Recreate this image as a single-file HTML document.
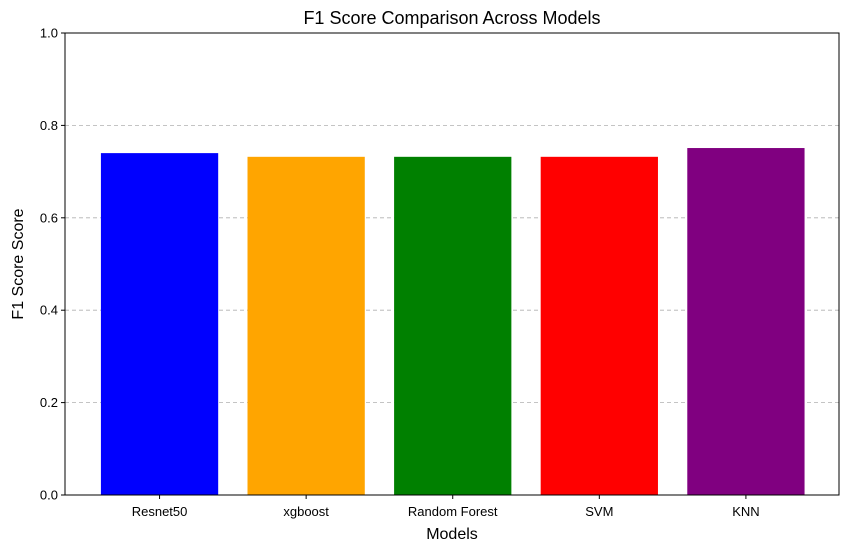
<!DOCTYPE html>
<html><head><meta charset="utf-8"><style>
body{margin:0;background:#fff;}
svg text{font-family:"Liberation Sans","DejaVu Sans",sans-serif;fill:#000;}
</style></head><body>
<svg width="850" height="552" viewBox="0 0 850 552" xmlns="http://www.w3.org/2000/svg">
<g id="grid"></g>
<g id="bars"></g>
<rect x="65" y="33" width="774" height="462" fill="none" stroke="#000" stroke-width="1"/>
<g id="yticks"></g>
<g id="xticks"></g>
<text x="452" y="24" text-anchor="middle" font-size="18">F1 Score Comparison Across Models</text>
<text x="452" y="539" text-anchor="middle" font-size="16">Models</text>
<text transform="translate(23,264) rotate(-90)" text-anchor="middle" font-size="16">F1 Score Score</text>
</svg>
<script>
const categories = ["Resnet50","xgboost","Random Forest","SVM","KNN"];
const f1Values = [0.74,0.732,0.732,0.732,0.751];
const barColors = ["#0000ff","#ffa500","#008000","#ff0000","#800080"];
const yTickValues = [0,0.2,0.4,0.6,0.8,1.0];
const yTickLabels = ["0.0","0.2","0.4","0.6","0.8","1.0"];

const NS="http://www.w3.org/2000/svg";
const L=65,R=839,T=33,B=495;
const xmin=-0.645,xmax=categories.length-1+0.635;
const xs=v=>L+(v-xmin)/(xmax-xmin)*(R-L);
const ys=v=>B-(v-0)/(1-0)*(B-T);
function mk(tag,attrs,parent){const e=document.createElementNS(NS,tag);for(const k in attrs)e.setAttribute(k,attrs[k]);parent.appendChild(e);return e;}
const grid=document.getElementById('grid'),bars=document.getElementById('bars'),yt=document.getElementById('yticks'),xt=document.getElementById('xticks');
yTickValues.forEach((v,i)=>{
  const y=ys(v);
  if(v>0&&v<1){const g=mk('line',{x1:L,x2:R,y1:y,y2:y,stroke:'#b0b0b0','stroke-width':0.8,'stroke-dasharray':'4,3'},grid);
  
  }
  const t=mk('line',{x1:L-4,x2:L,y1:y,y2:y,stroke:'#000'},yt);
  
  
  const l=mk('text',{x:L-7,y:y+4.5,'text-anchor':'end','font-size':13},yt);
  l.textContent=yTickLabels[i];
  
  
});
categories.forEach((c,i)=>{
  const x0=xs(i-0.4),x1=xs(i+0.4),y=ys(f1Values[i]);
  const r=mk('rect',{x:x0,y:y,width:x1-x0,height:B-y,fill:barColors[i]},bars);
  
  
  const cx=xs(i);
  const t=mk('line',{x1:cx,x2:cx,y1:B,y2:B+4,stroke:'#000'},xt);
  
  
  const l=mk('text',{x:cx,y:B+21,'text-anchor':'middle','font-size':13},xt);
  l.textContent=c;
  
  
});
</script>
</body></html>
